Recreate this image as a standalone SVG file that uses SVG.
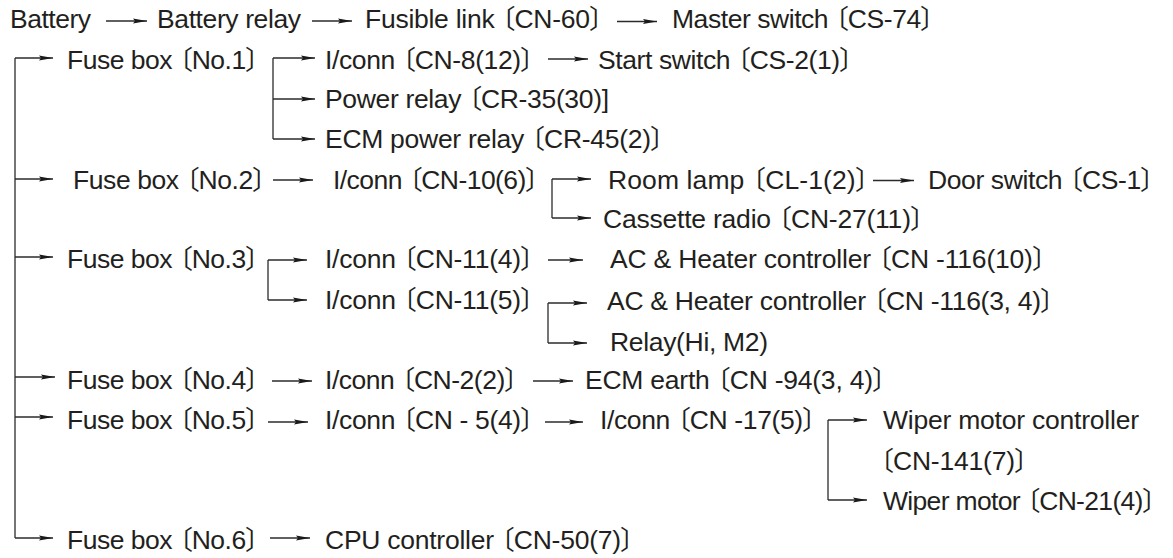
<svg xmlns="http://www.w3.org/2000/svg" width="1173" height="558" viewBox="0 0 1173 558">
<style>
text{font-family:"Liberation Sans",Arial,"Noto Sans CJK JP",sans-serif;font-size:26.5px;fill:#231f20;font-feature-settings:"palt" 1;}
.c{fill:none;stroke:#2b2b2b;stroke-width:1.3;}
.a{marker-end:url(#ah);}
</style>
<defs>
<marker id="ah" markerUnits="userSpaceOnUse" markerWidth="16" markerHeight="8" refX="14" refY="4" orient="auto">
<path d="M0,1.4 L14,4 L0,6.6 L2,4 Z" fill="#1a1a1a"/>
</marker>
</defs>
<rect width="1173" height="558" fill="#fff"/>
<g id="connectors">
<path class="c a" d="M106,21 H147"/>
<path class="c a" d="M312,21 H352"/>
<path class="c a" d="M617,21.5 H657"/>
<path class="c" d="M15,58 V538"/>
<path class="c a" d="M15,58 H53"/>
<path class="c a" d="M15,179 H53"/>
<path class="c a" d="M15,257 H53"/>
<path class="c a" d="M15,377 H55"/>
<path class="c a" d="M15,417 H53"/>
<path class="c a" d="M15,538 H53"/>
<path class="c" d="M273,58 V139"/>
<path class="c a" d="M273,58 H315"/>
<path class="c a" d="M273,99 H315"/>
<path class="c a" d="M273,139 H315"/>
<path class="c a" d="M548,59 H588"/>
<path class="c a" d="M273,180 H313"/>
<path class="c" d="M552,179 V218"/>
<path class="c a" d="M552,179 H591"/>
<path class="c a" d="M552,218 H591"/>
<path class="c a" d="M873,180.5 H914"/>
<path class="c" d="M268,260 V300"/>
<path class="c a" d="M268,260 H307"/>
<path class="c a" d="M268,300 H307"/>
<path class="c a" d="M548,260 H583"/>
<path class="c" d="M548,303 V343"/>
<path class="c a" d="M548,303 H587"/>
<path class="c a" d="M548,343 H587"/>
<path class="c a" d="M272,381 H312"/>
<path class="c a" d="M533,381 H573"/>
<path class="c a" d="M268,422 H308"/>
<path class="c a" d="M545,422 H583"/>
<path class="c" d="M828,420 V500"/>
<path class="c a" d="M828,420 H867"/>
<path class="c a" d="M828,500 H867"/>
<path class="c a" d="M270,538 H310"/>
</g>
<g id="battery"><text x="10" y="28" textLength="81" lengthAdjust="spacing">Battery</text></g>
<g id="battery-relay"><text x="157" y="28" textLength="144" lengthAdjust="spacing">Battery relay</text></g>
<g id="fusible-link"><text x="365" y="28" textLength="238" lengthAdjust="spacing">Fusible link 〔CN-60〕</text></g>
<g id="master-switch"><text x="672" y="28" textLength="262" lengthAdjust="spacing">Master switch 〔CS-74〕</text></g>

<g id="fuse-box-1"><text x="67" y="69" textLength="192" lengthAdjust="spacing">Fuse box 〔No.1〕</text></g>
<g id="iconn-cn8"><text x="325" y="69" textLength="209" lengthAdjust="spacing">I/conn 〔CN-8(12)〕</text></g>
<g id="start-switch"><text x="598" y="69" textLength="255" lengthAdjust="spacing">Start switch 〔CS-2(1)〕</text></g>
<g id="power-relay"><text x="325" y="108" textLength="284" lengthAdjust="spacing">Power relay 〔CR-35(30)]</text></g>
<g id="ecm-power-relay"><text x="325" y="148" textLength="339" lengthAdjust="spacing">ECM power relay 〔CR-45(2)〕</text></g>

<g id="fuse-box-2"><text x="73" y="189" textLength="193" lengthAdjust="spacing">Fuse box 〔No.2〕</text></g>
<g id="iconn-cn10"><text x="333" y="189" textLength="206" lengthAdjust="spacing">I/conn 〔CN-10(6)〕</text></g>
<g id="room-lamp"><text x="608" y="189" textLength="261" lengthAdjust="spacing">Room lamp 〔CL-1(2)〕</text></g>
<g id="door-switch"><text x="928" y="189" textLength="226" lengthAdjust="spacing">Door switch 〔CS-1〕</text></g>
<g id="cassette-radio"><text x="603" y="228" textLength="321" lengthAdjust="spacing">Cassette radio 〔CN-27(11)〕</text></g>

<g id="fuse-box-3"><text x="67" y="268" textLength="192" lengthAdjust="spacing">Fuse box 〔No.3〕</text></g>
<g id="iconn-cn11-4"><text x="325" y="268" textLength="209" lengthAdjust="spacing">I/conn 〔CN-11(4)〕</text></g>
<g id="ac-heater-10"><text x="610" y="268" textLength="436" lengthAdjust="spacing">AC &amp; Heater controller 〔CN -116(10)〕</text></g>
<g id="iconn-cn11-5"><text x="325" y="309" textLength="209" lengthAdjust="spacing">I/conn 〔CN-11(5)〕</text></g>
<g id="ac-heater-34"><text x="607" y="310" textLength="447" lengthAdjust="spacing">AC &amp; Heater controller 〔CN -116(3, 4)〕</text></g>
<g id="relay-hi-m2"><text x="610" y="351" textLength="158" lengthAdjust="spacing">Relay(Hi, M2)</text></g>

<g id="fuse-box-4"><text x="67" y="389" textLength="192" lengthAdjust="spacing">Fuse box 〔No.4〕</text></g>
<g id="iconn-cn2"><text x="325" y="389" textLength="193" lengthAdjust="spacing">I/conn 〔CN-2(2)〕</text></g>
<g id="ecm-earth"><text x="585" y="389" textLength="301" lengthAdjust="spacing">ECM earth 〔CN -94(3, 4)〕</text></g>

<g id="fuse-box-5"><text x="67" y="429" textLength="192" lengthAdjust="spacing">Fuse box 〔No.5〕</text></g>
<g id="iconn-cn5"><text x="325" y="429" textLength="209" lengthAdjust="spacing">I/conn 〔CN - 5(4)〕</text></g>
<g id="iconn-cn17"><text x="600" y="429" textLength="216" lengthAdjust="spacing">I/conn 〔CN -17(5)〕</text></g>
<g id="wiper-motor-controller"><text x="883" y="429" textLength="256" lengthAdjust="spacing">Wiper motor controller</text><text x="880" y="470" textLength="148" lengthAdjust="spacing">〔CN-141(7)〕</text></g>
<g id="wiper-motor"><text x="883" y="510" textLength="273" lengthAdjust="spacing">Wiper motor 〔CN-21(4)〕</text></g>

<g id="fuse-box-6"><text x="67" y="549" textLength="192" lengthAdjust="spacing">Fuse box 〔No.6〕</text></g>
<g id="cpu-controller"><text x="325" y="549" textLength="309" lengthAdjust="spacing">CPU controller 〔CN-50(7)〕</text></g>
</svg>
